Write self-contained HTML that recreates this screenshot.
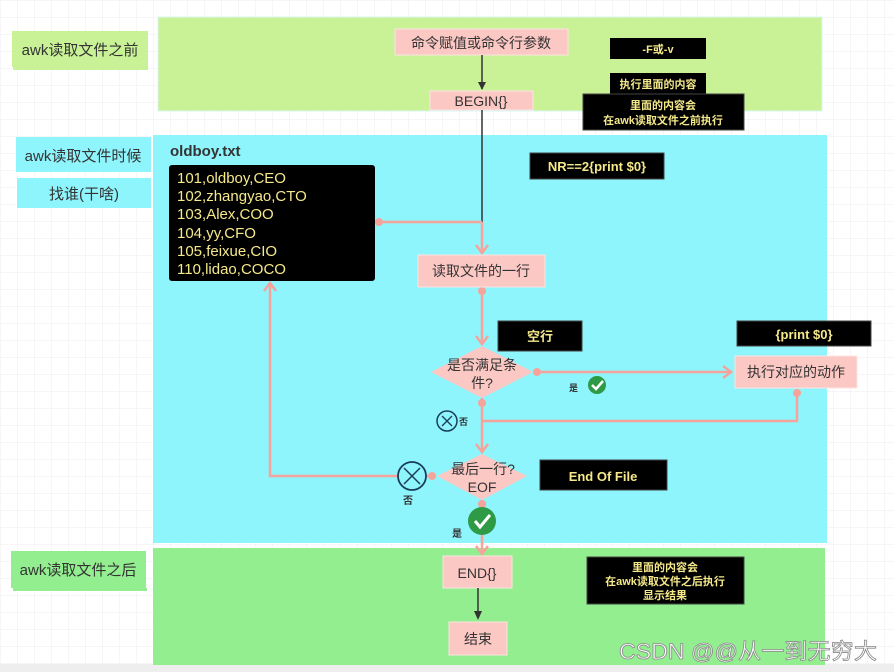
<!DOCTYPE html>
<html><head><meta charset="utf-8"><style>
html,body{margin:0;padding:0;width:894px;height:672px;overflow:hidden;background:#fff}
svg{display:block}
text{font-family:"Liberation Sans","Noto Sans CJK SC",sans-serif}
</style></head><body>
<svg width="894" height="672" viewBox="0 0 894 672" xmlns="http://www.w3.org/2000/svg">
<defs>
<pattern id="g" width="17" height="17" patternUnits="userSpaceOnUse"><path d="M17 0H0V17" fill="none" stroke="#ececec" stroke-width="1"/></pattern>
</defs>
<rect width="894" height="672" fill="#fff"/>
<rect width="894" height="664" fill="url(#g)"/>
<rect y="664" width="894" height="8" fill="#eeeeee"/>

<rect x="158" y="17" width="664" height="94" fill="#c9f296" stroke="#d6f7f2" stroke-width="1"/>
<rect x="153" y="135" width="674" height="408" fill="#8ef5fc"/>
<rect x="153" y="548" width="672" height="117" fill="#93ee90"/>

<rect x="12" y="31" width="136" height="36" fill="#c9f296"/><rect x="13" y="67" width="135" height="3" fill="#c9f296"/>
<text x="80" y="55" font-size="15" fill="#333" text-anchor="middle">awk读取文件之前</text>
<rect x="16" y="137" width="135" height="35" fill="#8ef5fc"/>
<text x="83" y="161" font-size="15" fill="#333" text-anchor="middle">awk读取文件时候</text>
<rect x="17" y="178" width="134" height="30" fill="#8ef5fc"/>
<text x="84" y="199" font-size="15" fill="#333" text-anchor="middle">找谁(干啥)</text>
<rect x="11" y="551" width="135" height="37" fill="#93ee90"/><rect x="13" y="588" width="134" height="3" fill="#93ee90"/>
<text x="78" y="575" font-size="15" fill="#333" text-anchor="middle">awk读取文件之后</text>

<rect x="395" y="29" width="173" height="26" fill="#fcc8c4" stroke="#fde3e0"/>
<text x="481" y="48" font-size="14" fill="#333" text-anchor="middle">命令赋值或命令行参数</text>
<line x1="482" y1="55" x2="482" y2="89" stroke="#333" stroke-width="1.5"/>
<path d="M478 82L482 90L486 82Z" fill="#333"/>
<rect x="430" y="91" width="103" height="19" fill="#fcc8c4" stroke="#fde3e0"/>
<text x="481" y="106" font-size="14" fill="#333" text-anchor="middle">BEGIN{}</text>
<line x1="482" y1="110" x2="482" y2="222" stroke="#333" stroke-width="1.5"/>

<rect x="610" y="38" width="96" height="21" fill="#000"/>
<text x="658" y="53" font-size="11" font-weight="bold" fill="#f5e98a" text-anchor="middle">-F或-v</text>
<rect x="610" y="73" width="96" height="22" fill="#000"/>
<text x="658" y="88" font-size="11" font-weight="bold" fill="#f5e98a" text-anchor="middle">执行里面的内容</text>
<rect x="583" y="94" width="161" height="36" fill="#000" stroke="#444"/>
<text x="663" y="109" font-size="11" font-weight="bold" fill="#f5e98a" text-anchor="middle">里面的内容会</text>
<text x="663" y="124" font-size="11" font-weight="bold" fill="#f5e98a" text-anchor="middle">在awk读取文件之前执行</text>

<text x="170" y="156" font-size="15" font-weight="bold" fill="#333">oldboy.txt</text>
<rect x="169" y="165" width="206" height="116" rx="3" fill="#000"/>
<g font-size="15" fill="#f5e98a">
<text x="177" y="183">101,oldboy,CEO</text>
<text x="177" y="201">102,zhangyao,CTO</text>
<text x="177" y="219">103,Alex,COO</text>
<text x="177" y="238">104,yy,CFO</text>
<text x="177" y="256">105,feixue,CIO</text>
<text x="177" y="274">110,lidao,COCO</text>
</g>
<rect x="530" y="153" width="134" height="26" fill="#000" stroke="#444"/>
<text x="597" y="171" font-size="13" font-weight="bold" fill="#f5e98a" text-anchor="middle">NR==2{print $0}</text>

<g stroke="#f6a39b" stroke-width="2.5" fill="none">
<line x1="379" y1="222" x2="482" y2="222"/>
<line x1="482" y1="222" x2="482" y2="253"/>
<path d="M476 245L482 253L488 245"/>
<line x1="482" y1="287" x2="482" y2="344"/>
<path d="M476 336L482 344L488 336"/>
<line x1="537" y1="372" x2="731" y2="372"/>
<path d="M723 366L731 372L723 378"/>
<polyline points="797,393 797,421 482,421"/>
<line x1="482" y1="398" x2="482" y2="452"/>
<path d="M476 444L482 452L488 444"/>
<polyline points="432,476 270,476 270,283"/>
<path d="M264 291L270 283L276 291"/>
<line x1="482" y1="500" x2="482" y2="554"/>
<path d="M476 546L482 554L488 546"/>
</g>
<g fill="#f6a39b">
<circle cx="379" cy="222" r="4"/><circle cx="482" cy="291" r="4"/><circle cx="537" cy="372" r="4"/>
<circle cx="797" cy="393" r="4"/><circle cx="482" cy="403" r="4"/><circle cx="432" cy="476" r="4"/><circle cx="482" cy="504" r="4"/>
</g>

<rect x="418" y="255" width="127" height="32" fill="#fcc8c4" stroke="#fde3e0"/>
<text x="481" y="276" font-size="14" fill="#333" text-anchor="middle">读取文件的一行</text>

<rect x="498" y="321" width="84" height="30" fill="#000" stroke="#444"/>
<text x="540" y="341" font-size="13" font-weight="bold" fill="#f5e98a" text-anchor="middle">空行</text>
<path d="M482 346L533 372L482 398L431 372Z" fill="#fcc8c4"/>
<text x="482" y="370" font-size="14" fill="#333" text-anchor="middle">是否满足条</text>
<text x="482" y="388" font-size="14" fill="#333" text-anchor="middle">件?</text>

<rect x="737" y="321" width="134" height="25" fill="#000" stroke="#444"/>
<text x="804" y="339" font-size="13" font-weight="bold" fill="#f5e98a" text-anchor="middle">{print $0}</text>
<rect x="735" y="356" width="122" height="32" fill="#fcc8c4" stroke="#fde3e0"/>
<text x="796" y="377" font-size="14" fill="#333" text-anchor="middle">执行对应的动作</text>

<text x="569" y="391" font-size="9" font-weight="bold" fill="#333">是</text>
<circle cx="597" cy="385" r="9" fill="#2e9a45"/>
<path d="M592 385L596 389L603 381" stroke="#fff" stroke-width="2.5" fill="none"/>

<circle cx="447" cy="421" r="10" fill="none" stroke="#1b3d57" stroke-width="1.5"/>
<path d="M442 416L452 426M452 416L442 426" stroke="#1b3d57" stroke-width="1.3"/>
<text x="459" y="425" font-size="9" font-weight="bold" fill="#333">否</text>

<path d="M482 454L527 476L482 500L437 476Z" fill="#fcc8c4"/>
<text x="483" y="474" font-size="14" fill="#333" text-anchor="middle">最后一行?</text>
<text x="482" y="492" font-size="14" fill="#333" text-anchor="middle">EOF</text>
<rect x="540" y="460" width="127" height="30" fill="#000" stroke="#444"/>
<text x="603" y="481" font-size="13" font-weight="bold" fill="#f5e98a" text-anchor="middle">End Of File</text>

<circle cx="412" cy="476" r="14" fill="#8ef5fc" stroke="#1b3d57" stroke-width="1.8"/>
<path d="M404 468L420 484M420 468L404 484" stroke="#1b3d57" stroke-width="1.5"/>
<text x="408" y="504" font-size="10" font-weight="bold" fill="#333" text-anchor="middle">否</text>

<circle cx="482" cy="521" r="14" fill="#2e9a45"/>
<path d="M475 521L480 527L490 515" stroke="#fff" stroke-width="3" fill="none"/>
<text x="452" y="537" font-size="10" font-weight="bold" fill="#333">是</text>

<rect x="443" y="556" width="69" height="32" fill="#fcc8c4" stroke="#fde3e0"/>
<text x="477" y="578" font-size="14" fill="#333" text-anchor="middle">END{}</text>
<line x1="478" y1="588" x2="478" y2="618" stroke="#333" stroke-width="1.5"/>
<path d="M474 611L478 620L482 611Z" fill="#333"/>
<rect x="449" y="622" width="58" height="33" fill="#fcc8c4" stroke="#fde3e0"/>
<text x="478" y="644" font-size="14" fill="#333" text-anchor="middle">结束</text>
<rect x="587" y="557" width="157" height="47" fill="#000" stroke="#444"/>
<text x="665" y="571" font-size="11" font-weight="bold" fill="#f5e98a" text-anchor="middle">里面的内容会</text>
<text x="665" y="585" font-size="11" font-weight="bold" fill="#f5e98a" text-anchor="middle">在awk读取文件之后执行</text>
<text x="665" y="599" font-size="11" font-weight="bold" fill="#f5e98a" text-anchor="middle">显示结果</text>

<text x="619" y="659" font-size="22" fill="#fff" stroke="#8a8a8a" stroke-width="0.8" textLength="258" lengthAdjust="spacingAndGlyphs">CSDN @@从一到无穷大</text>
</svg>
</body></html>
